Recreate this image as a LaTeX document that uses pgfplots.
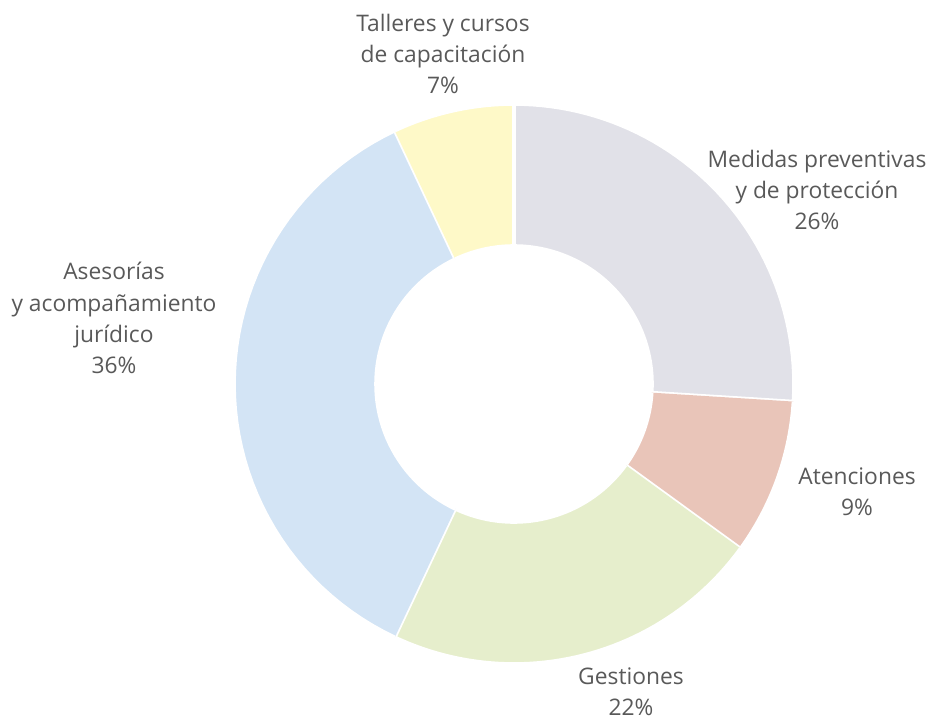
\documentclass[border=0pt]{standalone}
\usepackage{pgfplots}
\pgfplotsset{compat=1.18}
\usepackage{fontspec}
\setmainfont{Open Sans}
\definecolor{cMed}{HTML}{E1E1E8}
\definecolor{cAte}{HTML}{E9C5B9}
\definecolor{cGes}{HTML}{E6EECC}
\definecolor{cAse}{HTML}{D3E4F5}
\definecolor{cTal}{HTML}{FEF9C8}
\definecolor{txt}{HTML}{595959}
% #1 = cumulative start (%), #2 = share (%), #3 = colour
\newcommand{\slice}[3]{%
  \addplot[fill=#3, draw=white, line width=1.8pt, samples at={0,...,101}, variable=\t]
  ({514 + ((\t<=50) ? 280 : 138)*cos(90-3.6*(#1 + #2*((\t<=50) ? \t/50 : (101-\t)/50)))},
   {340 + ((\t<=50) ? 280 : 138)*sin(90-3.6*(#1 + #2*((\t<=50) ? \t/50 : (101-\t)/50)))});
}
\begin{document}
\begin{tikzpicture}[lab/.style={font=\fontsize{11.4}{15.6}\selectfont, text=txt, align=center, inner sep=0pt}]
\begin{axis}[
  scale only axis, width=471pt, height=362pt,
  xmin=0, xmax=942, ymin=0, ymax=724,
  hide axis, clip=false,
]
\slice{0}{26}{cMed}
\slice{26}{9}{cAte}
\slice{35}{22}{cGes}
\slice{57}{36}{cAse}
\slice{93}{7}{cTal}
\node[lab] at (axis cs:443,670) {Talleres y cursos\\de capacitación\\7\%};
\node[lab] at (axis cs:817,534) {Medidas preventivas\\y de protección\\26\%};
\node[lab] at (axis cs:114,406) {Asesorías\\y acompañamiento\\jurídico\\36\%};
\node[lab] at (axis cs:857,232) {Atenciones\\9\%};
\node[lab] at (axis cs:631,32) {Gestiones\\22\%};
\end{axis}
\pgfresetboundingbox
\useasboundingbox (current axis.south west) rectangle (current axis.north east);
\end{tikzpicture}
\end{document}
